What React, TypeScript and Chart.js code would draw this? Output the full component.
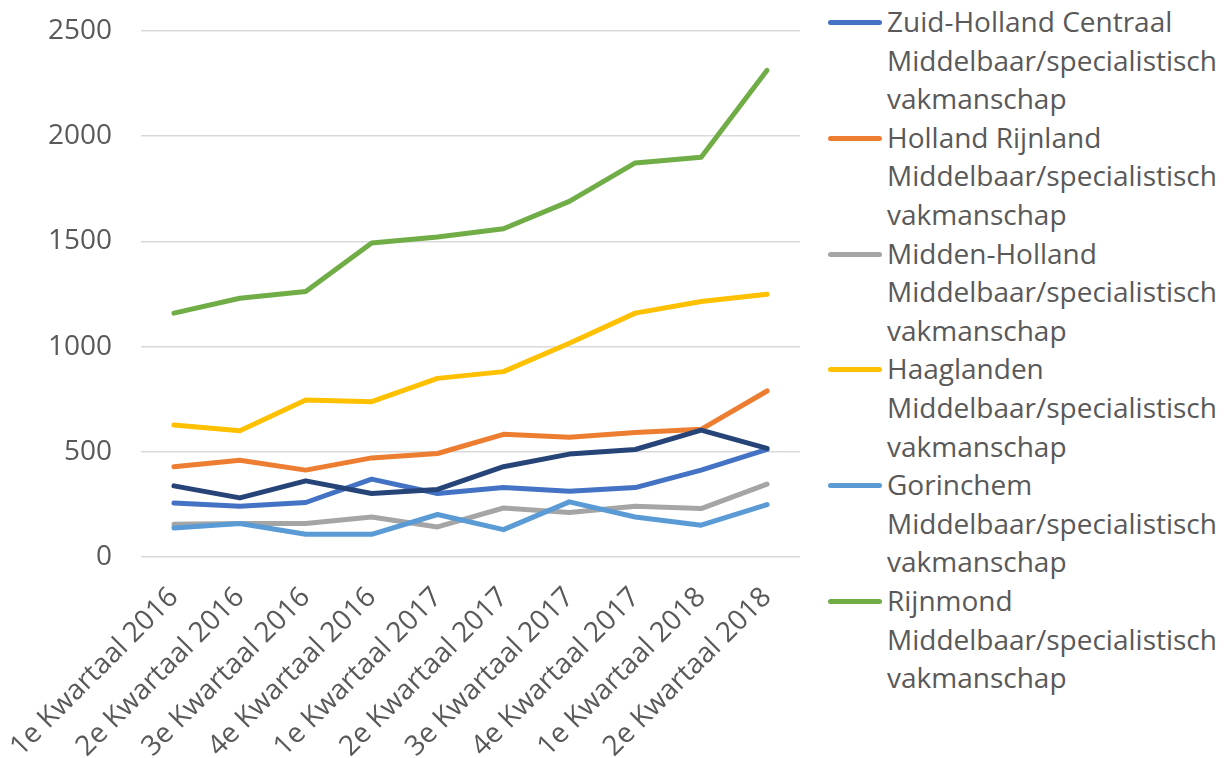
import React, { useEffect, useRef } from "react";
import { Chart, registerables } from "chart.js";

Chart.register(...registerables);

const categories = [
  "1e Kwartaal 2016",
  "2e Kwartaal 2016",
  "3e Kwartaal 2016",
  "4e Kwartaal 2016",
  "1e Kwartaal 2017",
  "2e Kwartaal 2017",
  "3e Kwartaal 2017",
  "4e Kwartaal 2017",
  "1e Kwartaal 2018",
  "2e Kwartaal 2018",
];

const zuidHollandCentraal = [257, 241, 259, 370, 302, 330, 313, 330, 413, 511];
const hollandRijnland = [429, 460, 413, 471, 492, 583, 569, 592, 607, 789];
const middenHolland = [156, 159, 159, 190, 143, 233, 211, 241, 230, 346];
const haaglanden = [627, 600, 746, 738, 849, 881, 1016, 1159, 1214, 1249];
const gorinchem = [138, 159, 108, 108, 202, 130, 262, 190, 151, 249];
const rijnmond = [1159, 1230, 1262, 1492, 1521, 1560, 1690, 1873, 1900, 2313];
const drechtsteden = [338, 281, 362, 302, 321, 429, 489, 511, 603, 516];

const yTicks = [0, 500, 1000, 1500, 2000, 2500];

const SUFFIX = "Middelbaar/specialistisch vakmanschap";

const series = [
  { name: "Zuid-Holland Centraal", data: zuidHollandCentraal, color: "#4472C4", legend: true },
  { name: "Holland Rijnland", data: hollandRijnland, color: "#ED7D31", legend: true },
  { name: "Midden-Holland", data: middenHolland, color: "#A5A5A5", legend: true },
  { name: "Haaglanden", data: haaglanden, color: "#FFC000", legend: true },
  { name: "Gorinchem", data: gorinchem, color: "#5B9BD5", legend: true },
  { name: "Rijnmond", data: rijnmond, color: "#70AD47", legend: true },
  { name: "Drechtsteden", data: drechtsteden, color: "#264478", legend: false },
];

const FONT = "'Open Sans', sans-serif";
const FONT_SIZE = 28;
const TEXT_COLOR = "#595959";
const LINE_H = 38.6;

const zeroPadding = (scale: any) => {
  scale.paddingLeft = 0;
  scale.paddingRight = 0;
  scale.paddingTop = 0;
  scale.paddingBottom = 0;
};

export default function App() {
  const canvasRef = useRef<HTMLCanvasElement | null>(null);

  useEffect(() => {
    const canvas = canvasRef.current;
    if (!canvas) return;
    const chart = new Chart(canvas, {
      type: "line",
      data: {
        labels: categories,
        datasets: series.map((s, i) => ({
          label: s.name + " " + SUFFIX,
          data: s.data,
          borderColor: s.color,
          backgroundColor: s.color,
          borderWidth: 5,
          borderCapStyle: "round",
          borderJoinStyle: "round",
          pointRadius: 0,
          pointHoverRadius: 0,
          tension: 0,
          fill: false,
          order: series.length - i,
        })),
      },
      options: {
        responsive: false,
        animation: false,
        devicePixelRatio: 1,
        layout: { padding: { top: 31, right: 20, left: 0, bottom: 0 } },
        plugins: {
          legend: { display: false },
          tooltip: { enabled: false },
          title: { display: false },
        },
        scales: {
          x: {
            offset: true,
            grid: { display: false, drawTicks: false },
            border: { display: false },
            ticks: {
              color: TEXT_COLOR,
              font: { family: FONT, size: FONT_SIZE },
              maxRotation: 45,
              minRotation: 45,
              autoSkip: false,
              padding: 24,
            },
            afterFit: (scale: any) => {
              scale.height = 201;
              zeroPadding(scale);
            },
          },
          y: {
            min: 0,
            max: 2500,
            afterBuildTicks: (scale: any) => {
              scale.ticks = yTicks.map((v) => ({ value: v }));
            },
            grid: { color: "#D9D9D9", lineWidth: 1.5, drawTicks: false },
            border: { display: false },
            ticks: {
              color: TEXT_COLOR,
              font: { family: FONT, size: FONT_SIZE },
              padding: 29,
              callback: (v: any) => String(v),
            },
            afterFit: (scale: any) => {
              scale.width = 141;
              zeroPadding(scale);
            },
          },
        },
      },
    });
    return () => chart.destroy();
  }, []);

  return (
    <div style={{ position: "fixed", left: 0, top: 0, width: 1230, height: 758, background: "#fff" }}>
      <canvas
        ref={canvasRef}
        width={820}
        height={758}
        style={{ position: "absolute", left: 0, top: 0, width: 820, height: 758 }}
      />
      <div
        style={{
          position: "absolute",
          left: 828,
          top: 2,
          fontFamily: FONT,
          fontSize: FONT_SIZE,
          lineHeight: LINE_H + "px",
          color: TEXT_COLOR,
        }}
      >
        {series
          .filter((s) => s.legend)
          .map((s) => (
            <div key={s.name} style={{ position: "relative", paddingLeft: 59, height: LINE_H * 3 }}>
              <span
                style={{
                  position: "absolute",
                  left: 0,
                  top: 18,
                  width: 54,
                  height: 5,
                  borderRadius: 3,
                  background: s.color,
                }}
              />
              <div style={{ whiteSpace: "nowrap" }}>{s.name}</div>
              <div style={{ whiteSpace: "nowrap" }}>Middelbaar/specialistisch</div>
              <div style={{ whiteSpace: "nowrap" }}>vakmanschap</div>
            </div>
          ))}
      </div>
    </div>
  );
}
